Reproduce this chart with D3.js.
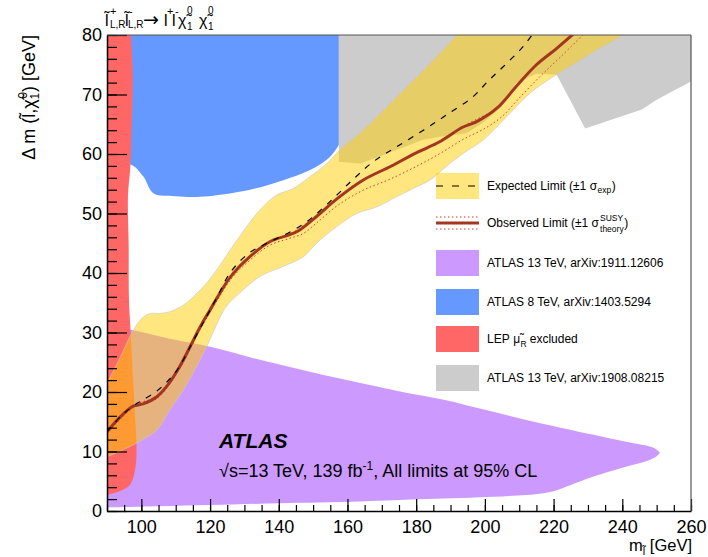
<!DOCTYPE html>
<html>
<head>
<meta charset="utf-8">
<script src="https://cdn.jsdelivr.net/npm/d3@7"></script>
<style>
  body { margin: 0; background: #fff; }
  svg { font-family: "Liberation Sans", Arial, sans-serif; }
</style>
</head>
<body>
<svg width="708" height="557"></svg>
<script>
"use strict";

// ---- values (x = slepton mass, y = delta m) ----
var xTicks = [100, 120, 140, 160, 180, 200, 220, 240, 260];
var yTicks = [0, 10, 20, 30, 40, 50, 60, 70, 80];

var observed = [[90,13.3],[94,15.9],[97.5,17.6],[100.5,18.0],[104.5,19.2],[108,21.4],[111,24.1],[114,27.4],
  [117,30.8],[120,33.8],[122,35.8],[126,39.4],[131.5,42.7],[137.5,45.3],[143,46.4],[146,47.2],[151,49.5],
  [157,52.5],[164.5,55.6],[172.5,57.9],[180,60.2],[187,62.1],[193.5,64.5],[197.5,65.4],[203.5,67.7],
  [209.5,71.6],[215,75.0],[221,77.8],[226,80.3]];

var theoryUp = [[90,13.4],[97.5,17.7],[104.5,19.3],[111,24.3],[117,30.9],[122,35.9],[126,39.5],[131.5,42.8],
  [137.5,45.4],[143,46.5],[151,49.6],[157,52.6],[164.5,55.7],[172.5,58.0],[180,60.3],[187,62.2],[193.5,64.6],
  [203.5,67.8],[209.5,71.7],[215,75.1],[221,77.9],[226,80.4]];

var theoryDown = [[90,13.0],[97.5,17.3],[104.5,18.9],[111,23.8],[117,30.4],[122,35.3],[126,38.9],[131.5,42.1],
  [137.5,44.7],[143,45.8],[147,46.6],[151,48.4],[157,51.3],[164.5,53.9],[172.5,55.8],[180,57.9],[187,60.1],
  [193.5,62.4],[200,64.3],[205,66.3],[210,69.4],[216,73.0],[222,76.3],[229,80.3]];

var expected = [[90,13.3],[94,15.9],[97.7,17.7],[100.6,18.7],[105.4,20.6],[110.3,23.6],[115.1,28.6],[119,32.7],
  [122,35.9],[125.8,40.0],[131,43.2],[135.5,44.7],[143.3,46.9],[148.1,48.6],[154.9,52.0],[161.4,55.6],
  [167.5,58.7],[174.3,61.2],[182.1,64.0],[188.9,66.6],[196.5,69.6],[201,72.3],[205.4,74.7],[211.2,78.1],[214.1,80.3]];

var bandUpper = [[90,21.5],[94,26],[97.2,29.9],[100,32.3],[102.5,33.2],[105.4,33.2],[108.3,33.5],[110,33.9],
  [112,34.5],[115.1,36],[118.5,38],[121.9,40.5],[127.8,45.5],[134.5,50.6],[139.4,53.1],[144.2,54.2],
  [149.1,56.2],[154,58.4],[157.8,60.7],[164.5,64],[174.3,69.6],[184,75.2],[191.8,80],[194,81.5]];

var bandLower = [[90,9.1],[98.6,11.4],[104.5,13.6],[108.3,17],[112.2,20.3],[116.1,24.3],[119,27.6],
  [121.9,31.3],[124.5,34.2],[127.8,36.2],[134.5,39.4],[141.3,41.1],[147.1,42.7],[151,45],[156.9,47.8],
  [162.7,50],[168.5,51.1],[174.3,52.8],[180.2,54.5],[184,55.6],[190,58.5],[193.7,60.1],[199.6,62.4],
  [206.4,66.3],[213.1,70.2],[219.9,73],[224.8,74.7],[232.6,77.5],[240.3,80],[243,81]];

var atlas13Upper = [[90,31.0],[97.2,30.4],[108,29.0],[120,27.6],[134.5,25.4],[149,23.4],[163.7,21.5],
  [176,20.0],[188,18.7],[200,17.0],[212,15.3],[222,14.0],[231.6,12.8],[238,12.0],[243.2,11.4],
  [247,11.0],[249.5,10.5],[251,9.8]];
var atlas13Lower = [[90,0.6],[105,0.8],[120,1.0],[140,1.3],[163.7,1.6],[183,2.0],[202.5,2.4],[212,2.7],
  [217,3.0],[220,3.3],[223.8,4.1],[231.6,5.8],[241.3,7.5],[246,8.2],[249.5,9.0],[251,9.8]];

var atlas8Top = [[90,80],[157.5,80]];
var atlas8Bottom = [[90,58.2],[97,58.2],[100.6,56.2],[103.5,53.4],[110,52.9],[117.1,52.8],[131.6,54],
  [141.3,55.6],[149.1,57.3],[154.9,59.5],[157.5,61.5]];

var lepEdge = [[97,80],[97.5,73],[97.2,65],[96.8,58],[96.1,52.8],[96.3,45],[96.4,35.5],[96.9,30],
  [97.6,22],[98.2,15.8],[98.6,10.3],[98.2,7],[96.7,4.4],[94,3.4],[90,2.7]];

var atlas13b = [[157.5,80],[260,80],[260,72.2],[250,69.1],[245.7,67.5],[229.2,64.3],[220.9,73.3],[215,73.5],
  [209,71.9],[205,68],[200,65.5],[194.7,63.5],[187,62.9],[182,62.4],[170.3,59.8],[163.7,58.4],[157.5,58.7]];

var legendLabels = ["Expected Limit (\u00b11 \u03c3", "Observed Limit (\u00b11 \u03c3",
  "ATLAS 13 TeV, arXiv:1911.12606", "ATLAS 8 TeV, arXiv:1403.5294", "LEP", "ATLAS 13 TeV, arXiv:1908.08215"];

var colPurple = "#cc99ff", colBlue = "#6699ff", colRed = "#ff6666", colGrey = "#cccccc";
var colBand = "rgb(255,205,0)", colObs = "#a3361f", colTheory = "#d03a2a";

var svg = d3.select("svg");

var x = d3.scaleLinear().domain([90, 260]).range([107, 691]);
var y = d3.scaleLinear().domain([0, 80]).range([511, 35]);

svg.append("clipPath").attr("id", "plot")
  .append("rect")
  .attr("x", x(90)).attr("y", y(80))
  .attr("width", x(260) - x(90)).attr("height", y(0) - y(80));

var smooth = d3.line().x(function (d) { return x(d[0]); }).y(function (d) { return y(d[1]); })
  .curve(d3.curveCatmullRom.alpha(0.5));
var straight = d3.line().x(function (d) { return x(d[0]); }).y(function (d) { return y(d[1]); });

function band(upper, lower, line) {
  return line(upper) + "L" + line(lower.slice().reverse()).slice(1) + "Z";
}

var g = svg.append("g").attr("clip-path", "url(#plot)");

g.append("path").attr("d", band(atlas13Upper, atlas13Lower, smooth)).attr("fill", colPurple);
g.append("path").attr("d", band(atlas8Top, atlas8Bottom, smooth)).attr("fill", colBlue);
g.append("path").attr("d", straight(atlas13b) + "Z").attr("fill", colGrey);
g.append("path")
  .attr("d", "M" + x(90) + "," + y(80) + "L" + smooth(lepEdge).slice(1) + "Z")
  .attr("fill", colRed);

g.append("path").attr("d", band(bandUpper, bandLower, smooth))
  .attr("fill", colBand).attr("fill-opacity", 0.5)
  .attr("stroke", "#c8c8c8").attr("stroke-opacity", 0.6).attr("stroke-width", 1);

[theoryUp, theoryDown].forEach(function (s) {
  g.append("path").attr("d", smooth(s)).attr("fill", "none")
    .attr("stroke", colTheory).attr("stroke-width", 1).attr("stroke-dasharray", "1.5,2.5");
});
g.append("path").attr("d", smooth(observed)).attr("fill", "none")
  .attr("stroke", colObs).attr("stroke-width", 3);
g.append("path").attr("d", smooth(expected)).attr("fill", "none")
  .attr("stroke", "#000").attr("stroke-width", 1.2).attr("stroke-dasharray", "6,7");

// ---- axes (ROOT style, ticks inward) ----
svg.append("g").attr("transform", "translate(0," + y(0) + ")")
  .call(d3.axisBottom(x).tickValues(d3.range(90, 261, 5)).tickSize(-6).tickFormat(""))
  .call(function (a) { a.select(".domain").remove(); });
svg.append("g").attr("transform", "translate(" + x(90) + ",0)")
  .call(d3.axisLeft(y).tickValues(d3.range(0, 81, 2)).tickSize(-10).tickFormat(""))
  .call(function (a) { a.select(".domain").remove(); });

var xAxis = svg.append("g").attr("transform", "translate(0," + y(0) + ")")
  .call(d3.axisBottom(x).tickValues(xTicks).tickSize(-12).tickSizeOuter(0).tickPadding(9));
var yAxis = svg.append("g").attr("transform", "translate(" + x(90) + ",0)")
  .call(d3.axisLeft(y).tickValues(yTicks).tickSize(-20).tickSizeOuter(0).tickPadding(5));
[xAxis, yAxis].forEach(function (a) {
  a.selectAll("text").style("font-size", "18px").attr("fill", "#000")
    .style("font-family", "'Liberation Sans', Arial, sans-serif");
  a.select(".domain").attr("stroke-width", 1.5);
});
svg.selectAll(".tick line").attr("stroke-width", 1.2);

svg.append("line").attr("x1", x(90)).attr("x2", x(260)).attr("y1", y(80)).attr("y2", y(80))
  .attr("stroke", "#555").attr("stroke-width", 1.2);
svg.append("line").attr("x1", x(260)).attr("x2", x(260)).attr("y1", y(80)).attr("y2", y(0))
  .attr("stroke", "#555").attr("stroke-width", 1.2);

// ---- text helpers ----
function txt(px, py, s, size, extra) {
  var t = svg.append("text").attr("x", px).attr("y", py).style("font-size", size + "px").text(s);
  if (extra) Object.keys(extra).forEach(function (k) { t.style(k, extra[k]); });
  return t;
}
function width(t) { return t.node().getComputedTextLength(); }

// title
txt(105, 26, "l\u0303", 16);
txt(110, 15, "+", 11); txt(110, 28, "L,R", 10);
txt(125, 26, "l\u0303", 16);
txt(129, 15, "-", 11); txt(128, 28, "L,R", 10);
txt(143, 26, "\u2192", 19, { "font-family": "'DejaVu Sans', sans-serif" });
txt(164, 26, "l", 16); txt(167, 15, "+", 11);
txt(172, 26, "l", 16); txt(175, 15, "-", 11);
txt(178, 26, "\u03c7\u0303", 16); txt(187, 30, "1", 10); txt(187, 14, "0", 10);
txt(199, 26, "\u03c7\u0303", 16); txt(208, 30, "1", 10); txt(208, 14, "0", 10);

// y axis title
var yt = svg.append("text").attr("transform", "translate(35,35) rotate(-90)")
  .attr("text-anchor", "end").style("font-size", "18px");
yt.append("tspan").text("\u0394 m (l\u0303,\u03c7\u0303");
yt.append("tspan").attr("dy", 4).style("font-size", "12px").text("1");
yt.append("tspan").attr("dx", -6).attr("dy", -12).style("font-size", "12px").text("0");
yt.append("tspan").attr("dy", 8).text(") [GeV]");

// x axis title
var xt = svg.append("text").attr("x", 692).attr("y", 551).attr("text-anchor", "end").style("font-size", "16.5px");
xt.append("tspan").text("m");
xt.append("tspan").attr("dy", 4).style("font-size", "11px").text("l\u0303");
xt.append("tspan").attr("dy", -4).text(" [GeV]");

// ATLAS label
txt(219, 448, "ATLAS", 21, { "font-weight": "bold", "font-style": "italic" });
var lumi = svg.append("text").attr("x", 219).attr("y", 477).style("font-size", "18px");
lumi.append("tspan").text("\u221as=13 TeV, 139 fb");
lumi.append("tspan").attr("dy", -7).style("font-size", "12px").text("-1");
lumi.append("tspan").attr("dy", 7).text(", All limits at 95% CL");

// ---- legend ----
var lx = 436, lw = 43, tx = 487;
var rows = [186, 223, 263, 302, 339, 378];

svg.append("rect").attr("x", lx).attr("y", rows[0] - 13).attr("width", lw).attr("height", 26)
  .attr("fill", colBand).attr("fill-opacity", 0.5);
svg.append("line").attr("x1", lx).attr("x2", lx + lw).attr("y1", rows[0]).attr("y2", rows[0])
  .attr("stroke", "#000").attr("stroke-width", 1.2).attr("stroke-dasharray", "7,9");

svg.append("line").attr("x1", lx).attr("x2", lx + lw).attr("y1", rows[1]).attr("y2", rows[1])
  .attr("stroke", colObs).attr("stroke-width", 3);
[-6, 6].forEach(function (o) {
  svg.append("line").attr("x1", lx).attr("x2", lx + lw).attr("y1", rows[1] + o).attr("y2", rows[1] + o)
    .attr("stroke", colTheory).attr("stroke-width", 1).attr("stroke-dasharray", "1.5,2.5");
});

[colPurple, colBlue, colRed, colGrey].forEach(function (c, i) {
  svg.append("rect").attr("x", lx).attr("y", rows[i + 2] - 13).attr("width", lw).attr("height", 26)
    .attr("fill", c);
});

var t0 = txt(tx, rows[0] + 4, legendLabels[0], 12);
var w0 = width(t0);
var s0 = txt(tx + w0 + 0.5, rows[0] + 7, "exp", 8.5);
txt(tx + w0 + width(s0) + 1, rows[0] + 4, ")", 12);

var t1 = txt(tx, rows[1] + 4, legendLabels[1], 12);
var w1 = width(t1);
var sup = txt(tx + w1 + 1, rows[1] - 2, "SUSY", 8.5);
var sub = txt(tx + w1 + 1, rows[1] + 9, "theory", 8.5);
txt(tx + w1 + 1.5 + Math.max(width(sup), width(sub)), rows[1] + 4, ")", 12);

txt(tx, rows[2] + 4, legendLabels[2], 12);
txt(tx, rows[3] + 4, legendLabels[3], 12);
var t4 = txt(tx, rows[4] + 4, legendLabels[4], 12);
var muX = tx + width(t4) + 3.5;
var mu = txt(muX, rows[4] + 4, "\u03bc\u0303", 12);
var r4 = txt(muX + width(mu) + 0.5, rows[4] + 8, "R", 8.5);
txt(muX + width(mu) + width(r4) + 3.5, rows[4] + 4, "excluded", 12);
txt(tx, rows[5] + 4, legendLabels[5], 12);
</script>
</body>
</html>
